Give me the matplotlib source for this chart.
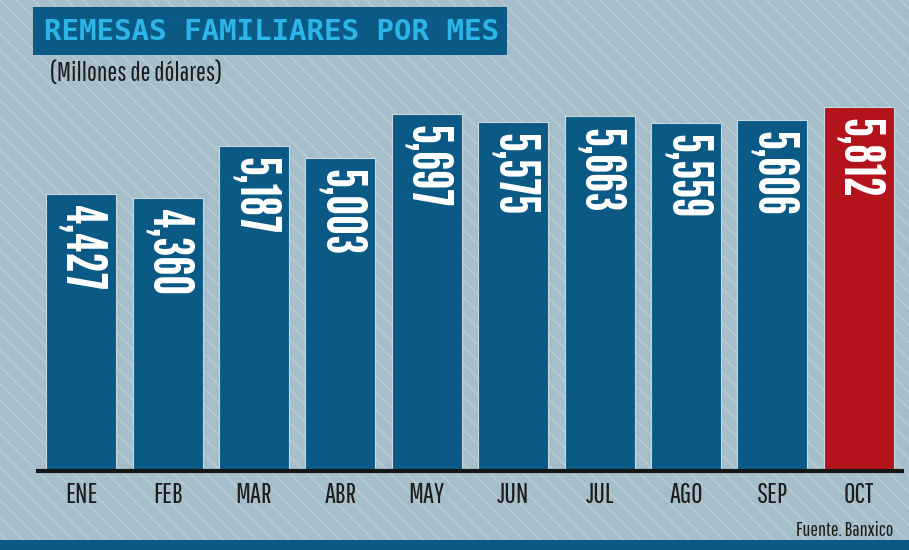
import matplotlib
matplotlib.use("Agg")
import matplotlib.pyplot as plt
from matplotlib.patches import Rectangle

# --- data ---
months = ["ENE", "FEB", "MAR", "ABR", "MAY", "JUN", "JUL", "AGO", "SEP", "OCT"]
remesas = [4427, 4360, 5187, 5003, 5697, 5575, 5663, 5559, 5606, 5812]
value_labels = ["4,427", "4,360", "5,187", "5,003", "5,697",
                "5,575", "5,663", "5,559", "5,606", "5,812"]
highlight = "OCT"

TITLE = "REMESAS FAMILIARES POR MES"
SUBTITLE = "(Millones de dólares)"
SOURCE = "Fuente. Banxico"

# --- styles ---
BG = "#a6bec9"
STRIPE = "#bacdd5"
BLUE = "#0b5a86"
RED = "#b3141c"
CYAN = "#2bb6e7"
GOTHIC = ["League Gothic", "Bebas Neue", "DejaVu Sans"]
THIN = ["Pathway Gothic One", "Roboto Condensed", "DejaVu Sans"]
MONO = ["DejaVu Sans Mono"]

W, H = 909, 550
fig = plt.figure(figsize=(W / 100, H / 100), dpi=100)
fig.patch.set_facecolor(BG)

# diagonal striped background
plt.rcParams["hatch.linewidth"] = 1.0
fig.patches.append(Rectangle((0, 0), 1, 1, transform=fig.transFigure,
                             facecolor=BG, edgecolor=STRIPE, hatch="\\\\",
                             linewidth=0, zorder=-3))

# bottom band
fig.patches.append(Rectangle((0, 0), 1, 10 / H, transform=fig.transFigure,
                             facecolor=BLUE, edgecolor="none", zorder=-2))

# title box
fig.patches.append(Rectangle((33 / W, 1 - 55 / H), 474 / W, 48 / H,
                             transform=fig.transFigure, facecolor=BLUE,
                             edgecolor="none", zorder=-2))
fig.text(271 / W, 1 - 32 / H, TITLE, color=CYAN, fontsize=21,
         family=MONO, weight="bold", ha="center", va="center")
fig.text(50 / W, 1 - 74 / H, SUBTITLE, color="#1b1b1b", fontsize=19,
         family=THIN, ha="left", va="center")
fig.text(893 / W, 1 - 530 / H, SOURCE, color="#1b1b1b", fontsize=14.5,
         family=THIN, ha="right", va="center")

# axes: baseline at y=471px, 0.0626 px per unit
ax = fig.add_axes([38 / W, (H - 471) / H, 864 / W, 471 / H])
ax.set_zorder(2)
ax.set_facecolor("none")
ax.set_xlim(-0.5, len(months) - 0.5)
ax.set_ylim(0, 471 / 0.0626)

x = list(range(len(months)))
colors = [RED if m == highlight else BLUE for m in months]
ax.bar(x, remesas, width=0.81, color=colors, edgecolor="#c9d8de",
       linewidth=0.8, zorder=2)

for xi, v, lab in zip(x, remesas, value_labels):
    ax.annotate(lab, (xi, v), xytext=(0, -8), textcoords="offset points",
                rotation=270, ha="center", va="top", color="white",
                fontsize=40, family=GOTHIC, zorder=3)

for s in ["top", "right", "left"]:
    ax.spines[s].set_visible(False)
ax.spines["bottom"].set_linewidth(3)
ax.spines["bottom"].set_color("#151515")
ax.spines["bottom"].set_zorder(4)
ax.set_yticks([])
ax.set_xticks(x)
ax.set_xticklabels(months, family=THIN, fontsize=20, color="#1c1c1c")
ax.tick_params(axis="x", length=0, pad=8)

fig.savefig("out.png", dpi=100, facecolor=fig.get_facecolor())
